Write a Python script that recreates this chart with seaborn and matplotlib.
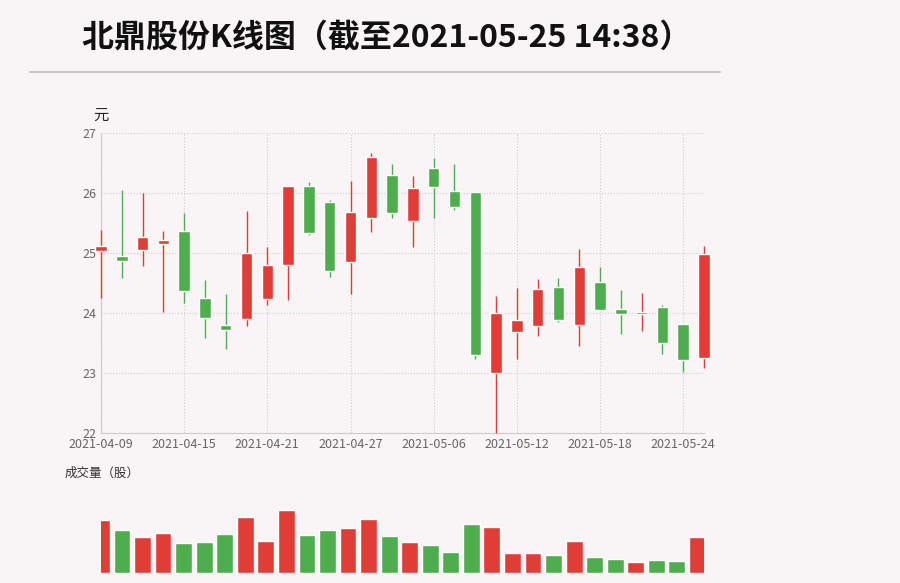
import numpy as np
import pandas as pd
import matplotlib
matplotlib.use("Agg")
import matplotlib.pyplot as plt
import seaborn as sns

dates = ["2021-04-09", "2021-04-12", "2021-04-13", "2021-04-14", "2021-04-15", "2021-04-16",
         "2021-04-19", "2021-04-20", "2021-04-21", "2021-04-22", "2021-04-23",
         "2021-04-26", "2021-04-27", "2021-04-28", "2021-04-29", "2021-04-30",
         "2021-05-06", "2021-05-07", "2021-05-10", "2021-05-11", "2021-05-12",
         "2021-05-13", "2021-05-14", "2021-05-17", "2021-05-18", "2021-05-19",
         "2021-05-20", "2021-05-21", "2021-05-24", "2021-05-25"]
open_ = [25.03, 24.95, 25.05, 25.15, 25.37, 24.25, 23.80, 23.90, 24.23, 24.80,
         26.12, 25.85, 24.85, 25.58, 26.30, 25.53, 26.42, 26.03, 26.02, 23.00,
         23.68, 23.78, 24.43, 23.80, 24.52, 24.07, 23.98, 24.10, 23.82, 23.25]
close = [25.12, 24.87, 25.27, 25.22, 24.37, 23.92, 23.72, 25.00, 24.80, 26.12,
         25.33, 24.70, 25.68, 26.60, 25.67, 26.08, 26.10, 25.77, 23.30, 24.00,
         23.88, 24.40, 23.88, 24.77, 24.05, 23.98, 24.00, 23.50, 23.22, 24.98]
high = [25.38, 26.05, 26.00, 25.37, 25.67, 24.55, 24.32, 25.70, 25.10, 26.12,
        26.18, 25.88, 26.20, 26.67, 26.48, 26.28, 26.58, 26.48, 26.02, 24.28,
        24.42, 24.57, 24.58, 25.07, 24.77, 24.38, 24.33, 24.13, 23.82, 25.12]
low = [24.25, 24.58, 24.78, 24.02, 24.17, 23.58, 23.40, 23.78, 24.13, 24.22,
       25.30, 24.60, 24.32, 25.35, 25.58, 25.10, 25.58, 25.72, 23.23, 22.00,
       23.23, 23.62, 23.85, 23.45, 24.05, 23.65, 23.70, 23.32, 23.02, 23.08]
volume = [53, 43, 36, 40, 30, 31, 39, 56, 32, 63, 38, 43, 45, 54, 37, 31,
          28, 21, 49, 46, 20, 20, 18, 32, 16, 14, 11, 13, 12, 36]

RED, GREEN, BG = "#df3d36", "#4eae4e", "#f9f5f6"
df = pd.DataFrame({"i": range(len(dates)), "open": open_, "close": close,
                   "high": high, "low": low, "vol": volume})
df["color"] = np.where(df["close"] >= df["open"], RED, GREEN)

sns.set_style("white")
plt.rcParams["font.family"] = ["Noto Sans CJK SC", "DejaVu Sans"]

fig = plt.figure(figsize=(9, 5.83), dpi=100, facecolor=BG)
fig.text(82 / 900, 1 - 38 / 583, "北鼎股份K线图（截至2021-05-25 14:38）",
         fontsize=23, fontweight="bold", va="center", color="#111111")
fig.add_artist(plt.Line2D([30 / 900, 720 / 900], [1 - 72 / 583] * 2, color="#c8c8c8", lw=1.5))

ax = fig.add_axes([101 / 900, 1 - 433 / 583, 603 / 900, 300 / 583], facecolor=BG)
ax.grid(True, color="#cccccc", ls=":", lw=0.8, zorder=0)
ax.vlines(df["i"], df["low"], df["high"], colors=df["color"], lw=1, clip_on=False, zorder=3)
body_lo = np.minimum(df["open"], df["close"])
body_h = np.maximum(np.abs(df["close"] - df["open"]), 0.03)
ax.bar(df["i"], body_h, bottom=body_lo, width=0.55, color=df["color"], clip_on=False, zorder=3)
ax.set_xlim(0, 29)
ax.set_ylim(22, 27)
ax.set_yticks(range(22, 28))
ticks = list(range(0, 30, 4))
ax.set_xticks(ticks)
ax.set_xticklabels([dates[t] for t in ticks])
ax.tick_params(labelsize=9, colors="#666666", length=0)
for s in ["top", "right"]:
    ax.spines[s].set_visible(False)
for s in ["left", "bottom"]:
    ax.spines[s].set_color("#cccccc")
ax.set_axisbelow(True)
ax.text(-0.012, 1.045, "元", transform=ax.transAxes, fontsize=11, ha="left")
ax.text(-0.06, -0.145, "成交量（股）", transform=ax.transAxes, fontsize=9, color="#333333")

vax = fig.add_axes([101 / 900, 10 / 583, 603 / 900, 70 / 583], facecolor=BG)
sns.barplot(data=df, x="i", y="vol", hue="i", palette=list(df["color"]),
            legend=False, width=0.82, ax=vax, saturation=1)
vax.set_xlim(-0.02, 29.32)
vax.set_ylim(0, max(volume) * 1.11)
vax.axis("off")

fig.savefig("out.png", dpi=100, facecolor=BG)
